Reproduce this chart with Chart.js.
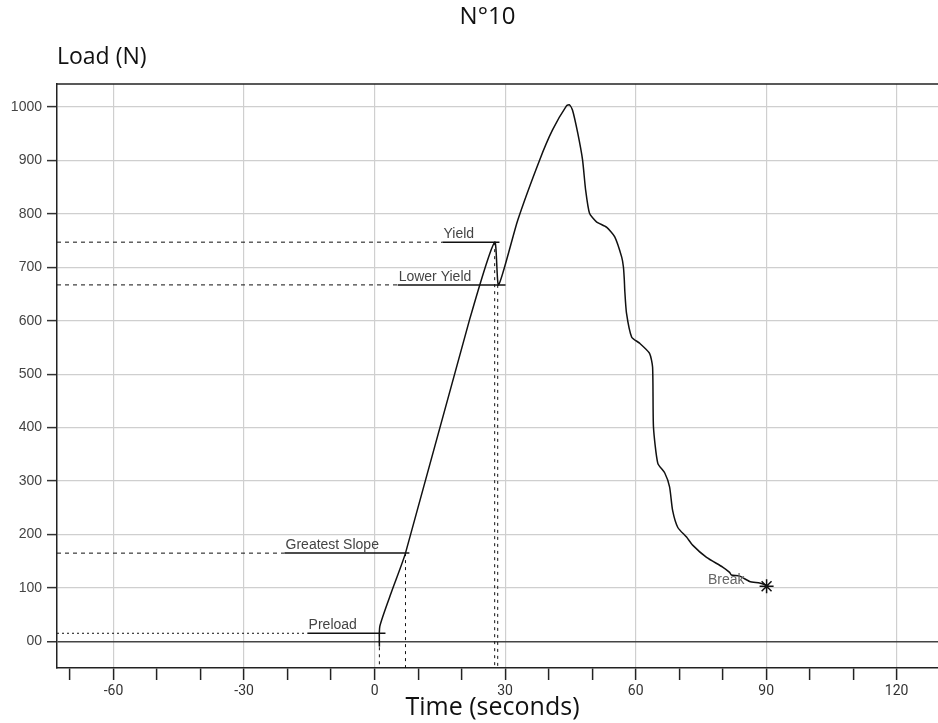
<!DOCTYPE html>
<html>
<head>
<meta charset="utf-8">
<script src="https://cdn.jsdelivr.net/npm/chart.js@4"></script>
<style>
    html, body { margin: 0; padding: 0; background: #fff; }
    #wrap { width: 938px; height: 723px; }
</style>
</head>
<body>
<div id="wrap"><canvas id="chart-load" width="938" height="723"></canvas></div>
<script>
// Load curve
const timeSeconds = [1.1, 1.2, 4.0, 7.1, 21.8, 27.6, 28.5, 32.9, 37.9, 40.9, 44.1, 44.8, 45.5, 46.7, 47.8, 48.5, 49.4, 51.0, 53.3, 55.2, 56.8, 57.2, 57.4, 57.5, 57.9, 59.1, 60.9, 63.2, 63.9, 64.1, 65.1, 66.7, 67.8, 68.5, 69.7, 71.7, 73.1, 76.3, 80.0, 81.6, 82.0, 83.9, 86.2, 88.5, 90.1];
const loadNewton = [-10, 28, 95, 165, 601, 747, 667, 788, 900, 957, 1002, 1004, 994, 951, 901, 845, 801, 785, 775, 757, 719, 700, 676, 657, 614, 569, 558, 539, 513, 401, 333, 315, 289, 245, 213, 195, 180, 157, 139, 129, 124, 122, 112, 109, 105];

// markers (Preload, Greatest Slope, Yield, Lower Yield)
const markerNames = ["Preload", "Greatest Slope", "Yield", "Lower Yield"];
const markerTime = [1.1, 7.1, 27.6, 28.3];
const markerLoad = [15, 165, 747, 667];
const markerLeaderStart = [-15.4, -20.7, 15.6, 5.3];
const markerLeaderEnd = [2.5, 8.0, 28.7, 30.1];
const markerDash = [[2, 3], [4, 4], [4, 4], [4, 4]];

const breakTime = [90.1];
const breakLoad = [103];
const breakLabel = "Break";

// axes
const xMin = -73, xMax = 129.5;
const yMin = -50, yMax = 1043;
const xTickValues = [-70, -60, -50, -40, -30, -20, -10, 0, 10, 20, 30, 40, 50, 60, 70, 80, 90, 100, 110, 120];
const xLabelValues = [-60, -30, 0, 30, 60, 90, 120];
const yTickValues = [0, 100, 200, 300, 400, 500, 600, 700, 800, 900, 1000];

const curve = timeSeconds.map((t, i) => ({ x: t, y: loadNewton[i] }));

const markerSets = [];
markerNames.forEach((name, i) => {
    const y = markerLoad[i];
    markerSets.push({
        data: [{ x: xMin, y }, { x: markerLeaderStart[i], y }],
        borderColor: "#111",
        borderWidth: 1,
        borderDash: markerDash[i],
    });
    markerSets.push({
        data: [{ x: markerLeaderStart[i], y }, { x: markerLeaderEnd[i], y }],
        borderColor: "#111",
        borderWidth: 1.5,
    });
    markerSets.push({
        data: [{ x: markerTime[i], y }, { x: markerTime[i], y: yMin }],
        borderColor: "#111",
        borderWidth: 1,
        borderDash: [3, 4],
    });
});

const frameAndTextPlugin = {
    id: "frameAndText",
    afterDatasetsDraw(chart) {
        const ctx = chart.ctx;
        const area = chart.chartArea;
        const xs = chart.scales.x;
        const ys = chart.scales.y;
        ctx.save();
        // top frame line
        ctx.strokeStyle = "#222";
        ctx.lineWidth = 1.5;
        ctx.beginPath();
        ctx.moveTo(area.left, area.top);
        ctx.lineTo(area.right, area.top);
        ctx.stroke();

        // marker labels
        ctx.fillStyle = "#444";
        ctx.font = "14px 'Liberation Sans', Arial, sans-serif";
        ctx.textAlign = "left";
        ctx.textBaseline = "bottom";
        markerNames.forEach((name, i) => {
            ctx.fillText(name, xs.getPixelForValue(markerLeaderStart[i]) + 1, ys.getPixelForValue(markerLoad[i]) - 1);
        });
        ctx.textAlign = "right";
        ctx.textBaseline = "middle";
        ctx.fillStyle = "#666";
        ctx.fillText(breakLabel, xs.getPixelForValue(breakTime[0]) - 22, ys.getPixelForValue(breakLoad[0]) - 6);

        // titles
        ctx.fillStyle = "#111";
        ctx.textBaseline = "middle";
        ctx.textAlign = "center";
        ctx.font = "24px 'Open Sans', sans-serif";
        ctx.fillText("N°10", (area.left + area.right) / 2 - 10, 17);
        ctx.textAlign = "left";
        ctx.font = "23px 'Open Sans', sans-serif";
        ctx.fillText("Load (N)", area.left, 57);
        ctx.textAlign = "center";
        ctx.font = "25px 'Open Sans', sans-serif";
        ctx.fillText("Time (seconds)", (area.left + area.right) / 2 - 5, 708);
        ctx.restore();
    },
};

new Chart(document.getElementById("chart-load"), {
    type: "scatter",
    data: {
        datasets: [
            ...markerSets,
            {
                data: curve,
                showLine: true,
                borderColor: "#111",
                borderWidth: 1.5,
                tension: 0.2,
            },
            {
                data: breakTime.map((t, i) => ({ x: t, y: breakLoad[i] })),
                pointStyle: "star",
                pointRadius: 7,
                borderColor: "#111",
                borderWidth: 1.5,
            },
        ].map((d) => ({ showLine: true, pointRadius: 0, ...d })),
    },
    options: {
        responsive: false,
        animation: false,
        layout: { autoPadding: false, padding: { top: 84, left: 0, right: 0, bottom: 0 } },
        plugins: { legend: { display: false }, tooltip: { enabled: false } },
        scales: {
            x: {
                type: "linear",
                min: xMin,
                max: xMax,
                afterBuildTicks: (axis) => {
                    axis.ticks = xTickValues.map((v) => ({ value: v }));
                },
                afterFit: (axis) => {
                    axis.height = 55;
                },
                ticks: {
                    autoSkip: false,
                    maxRotation: 0,
                    padding: 3,
                    color: "#333",
                    font: { family: "Roboto, sans-serif", size: 14 },
                    callback: (v) => (xLabelValues.includes(v) ? String(v) : ""),
                },
                grid: {
                    color: (c) => (c.tick && xLabelValues.includes(c.tick.value) ? "#cfcfcf" : "transparent"),
                    lineWidth: 1.2,
                    tickColor: "#222",
                    tickLength: 12,
                    tickWidth: 1.5,
                },
                border: { display: true, color: "#222", width: 1.5 },
            },
            y: {
                type: "linear",
                min: yMin,
                max: yMax,
                afterBuildTicks: (axis) => {
                    axis.ticks = yTickValues.map((v) => ({ value: v }));
                },
                afterFit: (axis) => {
                    axis.width = 57;
                },
                ticks: {
                    padding: 5,
                    color: "#444",
                    font: { family: "'Liberation Sans', Arial, sans-serif", size: 14 },
                    callback: (v) => (v === 0 ? "00" : String(v)),
                },
                grid: {
                    color: (c) => (c.tick && c.tick.value === 0 ? "#444" : "#cfcfcf"),
                    lineWidth: (c) => (c.tick && c.tick.value === 0 ? 1.5 : 1.2),
                    tickColor: "#333",
                    tickLength: 10,
                    tickWidth: 1.5,
                },
                border: { display: true, color: "#222", width: 1.5 },
            },
        },
    },
    plugins: [frameAndTextPlugin],
});
</script>
</body>
</html>
